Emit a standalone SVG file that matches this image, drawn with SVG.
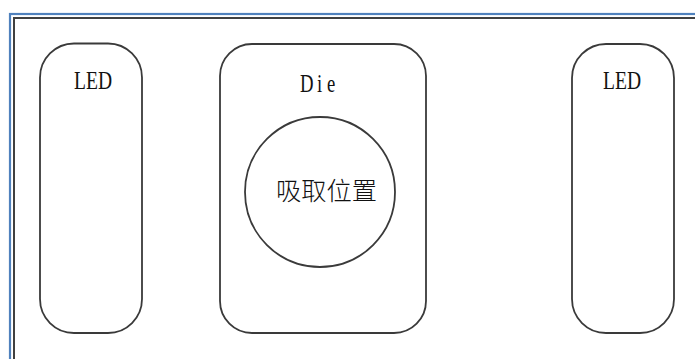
<svg xmlns="http://www.w3.org/2000/svg" width="695" height="359" viewBox="0 0 695 359">
<style>
.box{fill:#fff;stroke:#3a3a3a;stroke-width:1.8}
.lat{font-family:"Liberation Serif","DejaVu Serif",serif;font-size:26px;fill:#111}
.cjk{font-family:"Noto Sans CJK SC",sans-serif;font-size:25px;font-weight:300;fill:#111}
</style>
<rect width="695" height="359" fill="#fff"/>
<g id="frame">
<rect x="10" y="14" width="700" height="360" fill="none" stroke="#4f81bd" stroke-width="2.2"/>
<rect x="14" y="18" width="700" height="360" fill="none" stroke="#404040" stroke-width="2"/>
</g>
<g id="led-left">
<rect class="box" x="40" y="43.5" width="102" height="289.5" rx="34" ry="34"/>
<text class="lat" x="74" y="89" textLength="38" lengthAdjust="spacingAndGlyphs">LED</text>
</g>
<g id="die">
<rect class="box" x="220" y="44" width="206" height="289" rx="32" ry="32"/>
<text class="lat" transform="translate(300,92) scale(0.72,1)" x="0 23.6 37.5" y="0">Die</text>
</g>
<g id="pick">
<circle class="box" cx="320" cy="192" r="75"/>
<text class="cjk" x="276" y="200" textLength="101" lengthAdjust="spacingAndGlyphs">吸取位置</text>
</g>
<g id="led-right">
<rect class="box" x="572" y="44" width="102" height="289" rx="34" ry="34"/>
<text class="lat" x="603" y="89" textLength="38" lengthAdjust="spacingAndGlyphs">LED</text>
</g>
<g id="connectors"/>
</svg>
